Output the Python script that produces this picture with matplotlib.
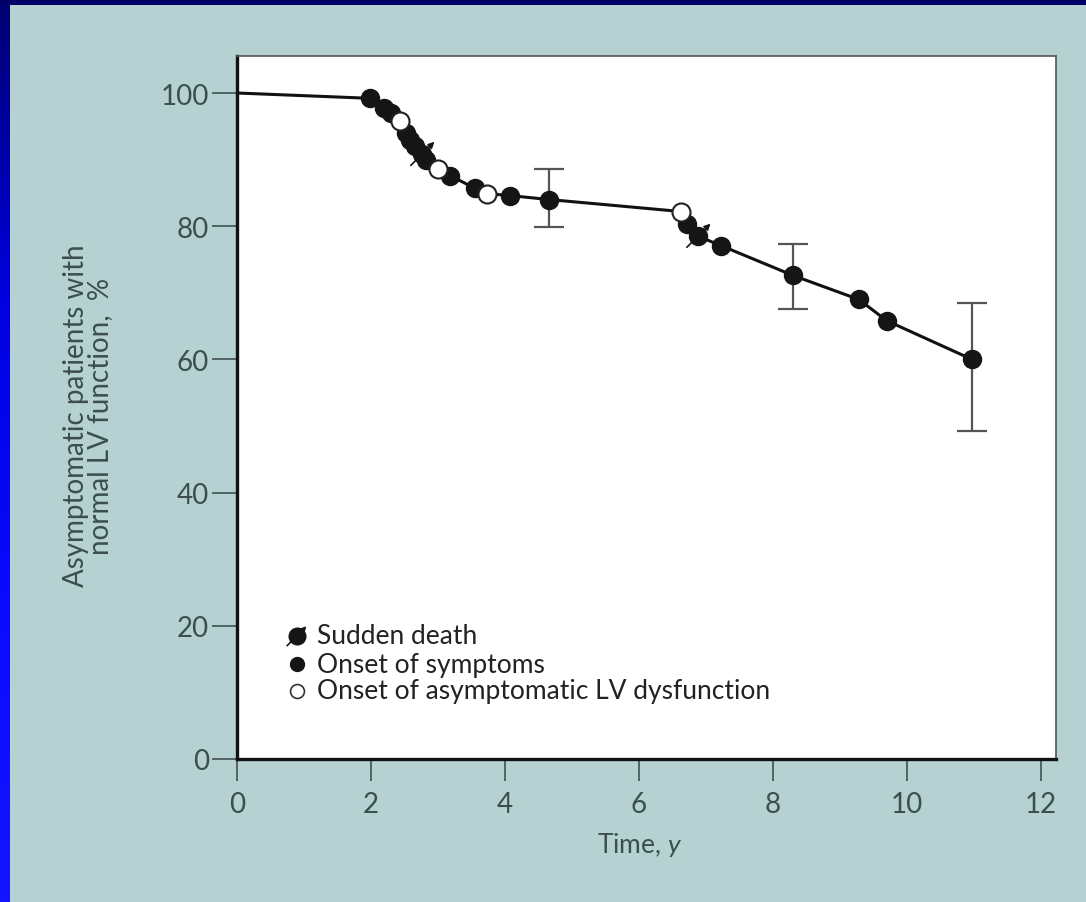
import numpy as np
import matplotlib
matplotlib.use("Agg")
import matplotlib.pyplot as plt
from matplotlib.transforms import offset_copy
from matplotlib.colors import LinearSegmentedColormap

plt.rcParams["font.family"] = ["Lato", "DejaVu Sans"]
plt.rcParams["mathtext.fontset"] = "custom"
plt.rcParams["mathtext.it"] = "Lato:italic"
plt.rcParams["mathtext.rm"] = "Lato"

# Kaplan-Meier style curve: time (years) and % still asymptomatic w/ normal LV function
times = [0.0, 1.99, 2.20, 2.30, 2.43, 2.52, 2.58, 2.65, 2.76, 2.82, 3.00, 3.18, 3.55,
         3.73, 4.07, 4.66, 6.63, 6.72, 6.88, 7.22, 8.30, 9.28, 9.70, 10.97]
pct = [100.0, 99.2, 97.7, 97.0, 95.8, 94.0, 93.0, 92.0, 90.8, 90.0, 88.6, 87.6, 85.7,
       84.9, 84.6, 84.0, 82.2, 80.4, 78.5, 77.1, 72.6, 69.0, 65.8, 60.0]
# event type per point: "" = start, "s" = onset of symptoms, "d" = sudden death,
# "o" = onset of asymptomatic LV dysfunction
events = ["", "s", "s", "s", "o", "s", "s", "s", "d", "s", "o", "s", "s",
          "o", "s", "s", "o", "s", "d", "s", "s", "s", "s", "s"]

err_x = [4.66, 8.30, 10.97]
err_y = [84.0, 72.6, 60.0]
err_lo = [79.9, 67.6, 49.2]
err_hi = [88.6, 77.3, 68.5]

xticks = [0, 2, 4, 6, 8, 10, 12]
yticks = [0, 20, 40, 60, 80, 100]
legend_labels = ["Sudden death", "Onset of symptoms", "Onset of asymptomatic LV dysfunction"]

W, H = 1086, 903
fig = plt.figure(figsize=(W / 100, H / 100), dpi=100)

# background: navy/blue frame with light teal panel
bg = fig.add_axes([0, 0, 1, 1], zorder=-10)
grad = np.linspace(0, 1, 256).reshape(-1, 1)
cmap = LinearSegmentedColormap.from_list("frame", ["#000070", "#0000e0", "#0a0aff", "#1414ff"])
bg.imshow(grad, aspect="auto", cmap=cmap, extent=[0, 1, 0, 1], origin="upper")
bg.add_patch(plt.Rectangle((0, 1 - 6 / H), 1, 6 / H, color="#000068", lw=0))
bg.add_patch(plt.Rectangle((10 / W, 0), 1 - 10 / W, 1 - 6 / H, color="#b6d1d1", lw=0))
bg.set_xlim(0, 1)
bg.set_ylim(0, 1)
bg.axis("off")

ax = fig.add_axes([237 / W, 1 - 760 / H, (1056 - 237) / W, (760 - 57) / H])
ax.set_facecolor("white")

ax.errorbar(err_x, err_y, yerr=[np.array(err_y) - np.array(err_lo), np.array(err_hi) - np.array(err_y)],
            fmt="none", ecolor="#555555", elinewidth=1.6, capsize=11, capthick=1.6, zorder=2)
ax.plot(times, pct, color="#111111", lw=2.2, zorder=3)

t = np.array(times)
p = np.array(pct)
ev = np.array(events)
filled = (ev == "s") | (ev == "d")
ax.plot(t[filled], p[filled], "o", ms=13, mfc="#151515", mec="#151515", zorder=4)
ax.plot(t[ev == "o"], p[ev == "o"], "o", ms=13, mfc="white", mec="#222222", mew=1.5, zorder=5)

# sudden death: small arrow through the dot
arrow_kw = dict(arrowstyle="-|>,head_length=0.35,head_width=0.18", color="#151515", lw=1.2,
                shrinkA=0, shrinkB=0)
tip = offset_copy(ax.transData, fig=fig, x=9, y=9, units="points")
for x, y in zip(t[ev == "d"], p[ev == "d"]):
    ax.annotate("", xy=(x, y), xycoords=tip, xytext=(-17, -17), textcoords="offset points",
                arrowprops=arrow_kw, zorder=6)

ax.set_xlim(0, (1056 - 237) / 67.0)
ax.set_ylim(0, (760 - 57) / 6.66)
ax.set_xticks(xticks)
ax.set_yticks(yticks)

tick_color = "#3c4e4e"
ax.tick_params(axis="x", direction="out", length=16, width=1.3, color="#4a5a5a",
               labelsize=20, labelcolor=tick_color, pad=7)
ax.tick_params(axis="y", direction="out", length=18, width=1.3, color="#4a5a5a",
               labelsize=20, labelcolor=tick_color, pad=2)

for side in ["left", "bottom"]:
    ax.spines[side].set_linewidth(2.4)
    ax.spines[side].set_color("#111111")
for side in ["top", "right"]:
    ax.spines[side].set_linewidth(1.2)
    ax.spines[side].set_color("#555555")

ax.text((88 - 237) / 819, (760 - 416) / 703, "Asymptomatic patients with\nnormal LV function,  %",
        transform=ax.transAxes, rotation=90, ha="center", va="center", fontsize=20,
        color=tick_color, linespacing=0.95)
ax.text((640 - 237) / 819, -(845 - 760) / 703, r"Time, $y$", transform=ax.transAxes,
        ha="center", va="center", fontsize=19, color=tick_color)

# legend drawn by hand
leg_y = [0.175, 0.135, 0.097]
mx, tx = 0.073, 0.098
ax.plot([mx], [leg_y[0]], "o", ms=12, mfc="#151515", mec="#151515", transform=ax.transAxes, clip_on=False)
leg_tip = offset_copy(ax.transAxes, fig=fig, x=7, y=7, units="points")
ax.annotate("", xy=(mx, leg_y[0]), xycoords=leg_tip, xytext=(-14, -14), textcoords="offset points",
            arrowprops=arrow_kw)
ax.plot([mx], [leg_y[1]], "o", ms=10, mfc="#151515", mec="#151515", transform=ax.transAxes)
ax.plot([mx], [leg_y[2]], "o", ms=10, mfc="white", mec="#333333", mew=1.2, transform=ax.transAxes)
for yy, lab in zip(leg_y, legend_labels):
    ax.text(tx, yy, lab, transform=ax.transAxes, ha="left", va="center", fontsize=19, color="#222222")

fig.savefig("out.png", dpi=100)
